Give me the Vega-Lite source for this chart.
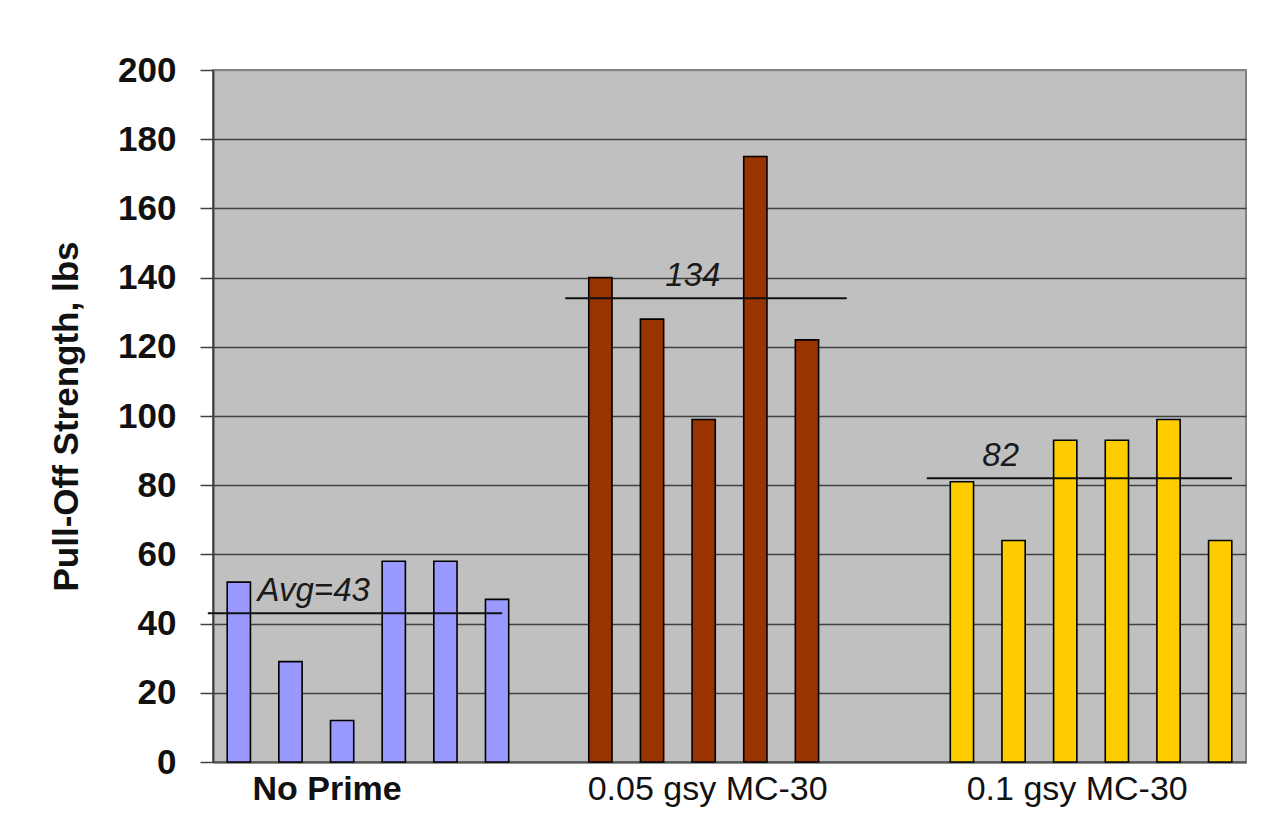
{
  "$schema": "https://vega.github.io/schema/vega-lite/v6.json",
  "width": 1033,
  "height": 692,
  "autosize": {"type": "none"},
  "padding": {"left": 213, "top": 70, "right": 27, "bottom": 59},
  "background": "#ffffff",
  "config": {
    "view": {"fill": "#C0C0C0", "stroke": "#808080", "strokeWidth": 2},
    "font": "Liberation Sans"
  },
  "datasets": {
    "bars": [
      {"slot": "s00", "group": "No Prime", "value": 52},
      {"slot": "s01", "group": "No Prime", "value": 29},
      {"slot": "s02", "group": "No Prime", "value": 12},
      {"slot": "s03", "group": "No Prime", "value": 58},
      {"slot": "s04", "group": "No Prime", "value": 58},
      {"slot": "s05", "group": "No Prime", "value": 47},
      {"slot": "s07", "group": "0.05 gsy MC-30", "value": 140},
      {"slot": "s08", "group": "0.05 gsy MC-30", "value": 128},
      {"slot": "s09", "group": "0.05 gsy MC-30", "value": 99},
      {"slot": "s10", "group": "0.05 gsy MC-30", "value": 175},
      {"slot": "s11", "group": "0.05 gsy MC-30", "value": 122},
      {"slot": "s14", "group": "0.1 gsy MC-30", "value": 81},
      {"slot": "s15", "group": "0.1 gsy MC-30", "value": 64},
      {"slot": "s16", "group": "0.1 gsy MC-30", "value": 93},
      {"slot": "s17", "group": "0.1 gsy MC-30", "value": 93},
      {"slot": "s18", "group": "0.1 gsy MC-30", "value": 99},
      {"slot": "s19", "group": "0.1 gsy MC-30", "value": 64}
    ],
    "avgs": [
      {"group": "No Prime", "avg": 43, "label": "Avg=43", "from": -0.1, "to": 5.6, "at": 1.95},
      {"group": "0.05 gsy MC-30", "avg": 134, "label": "134", "from": 6.82, "to": 12.27, "at": 9.29},
      {"group": "0.1 gsy MC-30", "avg": 82, "label": "82", "from": 13.82, "to": 19.73, "at": 15.25}
    ]
  },
  "layer": [
    {
      "data": {"name": "bars"},
      "mark": {"type": "bar", "stroke": "#000000", "strokeWidth": 1.6},
      "encoding": {
        "x": {
          "field": "slot",
          "type": "nominal",
          "scale": {
            "domain": ["s00","s01","s02","s03","s04","s05","s06","s07","s08","s09","s10","s11","s12","s13","s14","s15","s16","s17","s18","s19"],
            "paddingInner": 0.55,
            "paddingOuter": 0.275
          },
          "axis": {
            "title": null,
            "ticks": false,
            "domainColor": "#555555",
            "domainWidth": 2,
            "labelAngle": 0,
            "labelFont": "Liberation Sans",
            "labelFontSize": 34,
            "labelFontWeight": {"condition": {"test": "datum.value == 's02'", "value": "bold"}, "value": "normal"},
            "labelColor": "#111111",
            "labelPadding": 10,
            "labelBaseline": "top",
            "labelAlign": "center",
            "labelLimit": 0,
            "labelExpr": "datum.value == 's02' ? 'No Prime' : datum.value == 's09' ? '0.05 gsy MC-30' : datum.value == 's16' ? '0.1 gsy MC-30' : ''",
            "labelOffset": {
              "condition": [
                {"test": "datum.value == 's02'", "value": -15},
                {"test": "datum.value == 's09'", "value": 4},
                {"test": "datum.value == 's16'", "value": 12}
              ],
              "value": 0
            },
            "labelOverlap": false,
            "grid": false
          }
        },
        "y": {
          "field": "value",
          "type": "quantitative",
          "scale": {"domain": [0, 200], "nice": false},
          "axis": {
            "title": "Pull-Off Strength, lbs",
            "titleFont": "Liberation Sans",
            "titleFontSize": 35,
            "titleFontWeight": "bold",
            "titleColor": "#111111",
            "titlePadding": 33,
            "values": [0, 20, 40, 60, 80, 100, 120, 140, 160, 180, 200],
            "labelFont": "Liberation Sans",
            "labelFontSize": 35,
            "labelFontWeight": "bold",
            "labelColor": "#111111",
            "labelPadding": 24,
            "tickSize": 13,
            "tickColor": "#404040",
            "tickWidth": 1.5,
            "domainColor": "#404040",
            "domainWidth": 2,
            "grid": true,
            "gridColor": {"condition": {"test": "datum.value == 200", "value": "#888888"}, "value": "#404040"},
            "gridWidth": 1.5
          }
        },
        "color": {
          "field": "group",
          "type": "nominal",
          "scale": {
            "domain": ["No Prime", "0.05 gsy MC-30", "0.1 gsy MC-30"],
            "range": ["#9999FF", "#993300", "#FFCC00"]
          },
          "legend": null
        }
      }
    },
    {
      "data": {"name": "avgs"},
      "mark": {"type": "rule", "color": "#111111", "strokeWidth": 2},
      "encoding": {
        "x": {"field": "from", "type": "quantitative", "scale": {"domain": [0, 20], "nice": false, "zero": false}, "axis": null},
        "x2": {"field": "to"},
        "y": {"field": "avg", "type": "quantitative"}
      }
    },
    {
      "data": {"name": "avgs"},
      "mark": {"type": "text", "font": "Liberation Sans", "fontSize": 33, "fontStyle": "italic", "color": "#1a1a1a", "baseline": "middle", "align": "center", "dy": -22},
      "encoding": {
        "x": {"field": "at", "type": "quantitative", "scale": {"domain": [0, 20], "nice": false, "zero": false}, "axis": null},
        "y": {"field": "avg", "type": "quantitative"},
        "text": {"field": "label"}
      }
    }
  ],
  "resolve": {"scale": {"x": "independent"}, "axis": {"x": "independent"}}
}
